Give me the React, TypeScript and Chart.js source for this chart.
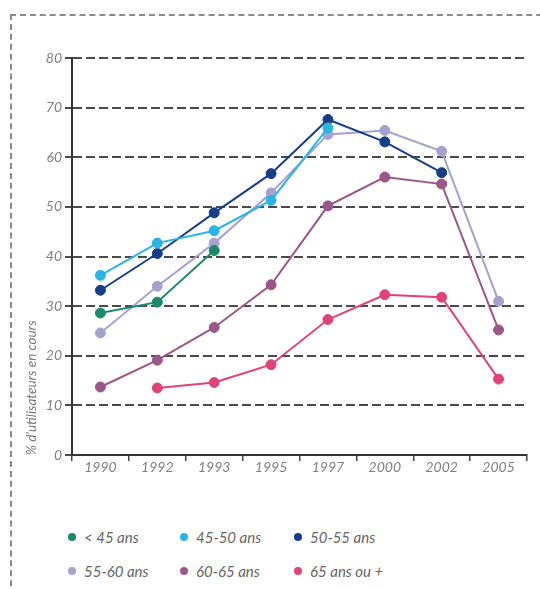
import React, { useEffect, useRef } from "react";
import { Chart, registerables } from "chart.js";

Chart.register(...registerables);

const years = ["1990", "1992", "1993", "1995", "1997", "2000", "2002", "2005"];
const under45 = [28.6, 30.8, 41.2, null, null, null, null, null];
const a45to50 = [36.2, 42.7, 45.2, 51.3, 65.9, null, null, null];
const a50to55 = [33.2, 40.6, 48.8, 56.7, 67.6, 63.1, 56.9, null];
const a55to60 = [24.6, 34.0, 42.7, 52.8, 64.6, 65.4, 61.2, 31.0];
const a60to65 = [13.7, 19.1, 25.7, 34.3, 50.2, 56.0, 54.6, 25.2];
const a65plus = [null, 13.5, 14.6, 18.2, 27.3, 32.3, 31.8, 15.3];
const yTicks = [0, 10, 20, 30, 40, 50, 60, 70, 80];

const seriesNames = ["< 45 ans", "45-50 ans", "50-55 ans", "55-60 ans", "60-65 ans", "65 ans ou +"];
const seriesColors = ["#1b8a6b", "#2ab4e6", "#173f88", "#a6a2cf", "#9a5788", "#e0427a"];
const seriesData = [under45, a45to50, a50to55, a55to60, a60to65, a65plus];

const FONT = "Lato, 'Open Sans', sans-serif";

export default function App() {
  const ref = useRef<HTMLCanvasElement | null>(null);

  useEffect(() => {
    if (!ref.current) return;
    const chart = new Chart(ref.current, {
      type: "line",
      data: {
        labels: years,
        datasets: seriesData.map((d, i) => ({
          label: seriesNames[i],
          data: d,
          borderColor: seriesColors[i],
          backgroundColor: seriesColors[i],
          pointBackgroundColor: seriesColors[i],
          pointBorderColor: seriesColors[i],
          borderWidth: 2,
          pointRadius: 5,
          pointBorderWidth: 1,
          spanGaps: false,
          tension: 0,
        })),
      },
      options: {
        animation: false,
        responsive: false,
        maintainAspectRatio: false,
        layout: { padding: { top: 58, right: 13, bottom: 15, left: 0 } },
        plugins: { legend: { display: false }, tooltip: { enabled: false } },
        scales: {
          x: {
            offset: true,
            afterFit: (s: any) => { s.height = 30; },
            grid: {
              offset: true,
              drawOnChartArea: false,
              drawTicks: true,
              tickLength: 6,
              color: "#444",
              lineWidth: 1.5,
            },
            border: { display: true, color: "#333", width: 2 },
            ticks: {
              padding: -2,
              color: "#808080",
              font: { family: FONT, size: 14, style: "italic" },
            },
          },
          y: {
            min: 0,
            max: 80,
            afterFit: (s: any) => { s.width = 72; },
            afterBuildTicks: (s: any) => { s.ticks = yTicks.map((v) => ({ value: v })); },
            grid: {
              color: "#4a4a4a",
              lineWidth: 2,
              tickLength: 7,
              tickBorderDash: [9, 4],
            },
            border: { display: true, color: "#333", width: 2, dash: [9, 4] },
            ticks: {
              padding: 3,
              color: "#808080",
              font: { family: FONT, size: 14, style: "italic" },
            },
            title: {
              display: true,
              text: "% d'utilisateurs en cours",
              align: "start",
              color: "#777",
              padding: { top: 24, bottom: 0 },
              font: { family: FONT, size: 13.5, style: "italic" },
            },
          },
        },
      },
    } as any);
    return () => chart.destroy();
  }, []);

  const legendPos = [
    { x: 72, y: 537 }, { x: 184, y: 537 }, { x: 298, y: 537 },
    { x: 72, y: 571 }, { x: 184, y: 571 }, { x: 298, y: 571 },
  ];

  return (
    <div style={{ position: "fixed", left: 0, top: 0, width: 540, height: 589, background: "#fff", overflow: "hidden" }}>
      <div style={{ position: "absolute", left: 10, top: 14, width: 560, height: 600, borderTop: "2px dashed #8a8a8a", borderLeft: "2px dashed #8a8a8a" }} />
      <canvas ref={ref} width={540} height={500} style={{ position: "absolute", left: 0, top: 0, width: 540, height: 500 }} />
      {seriesNames.map((n, i) => (
        <div key={n} style={{ position: "absolute", left: legendPos[i].x - 4, top: legendPos[i].y - 10, height: 20, display: "flex", alignItems: "center", fontFamily: FONT, fontStyle: "italic", fontSize: 15, color: "#666", whiteSpace: "nowrap" }}>
          <span style={{ display: "inline-block", width: 8, height: 8, borderRadius: 4, background: seriesColors[i], marginRight: 8 }} />
          {n}
        </div>
      ))}
    </div>
  );
}
